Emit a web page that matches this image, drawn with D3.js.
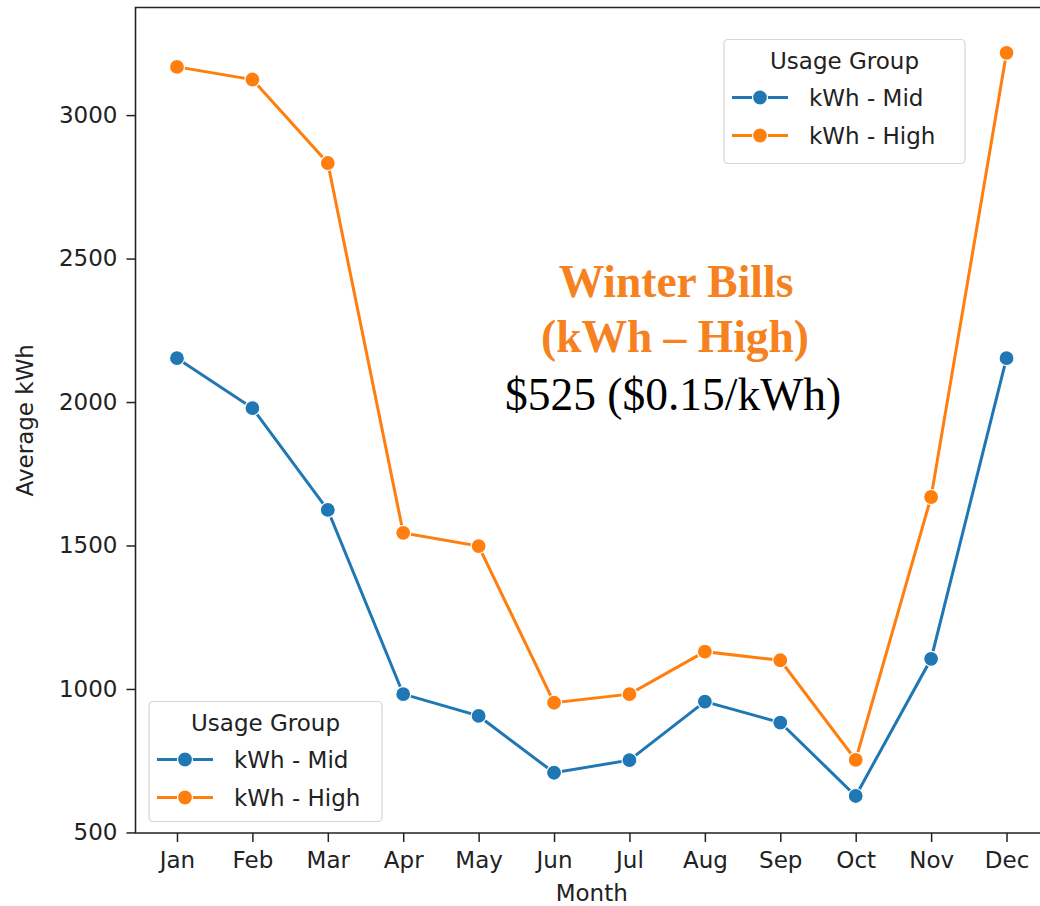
<!DOCTYPE html>
<html>
<head>
<meta charset="utf-8">
<script src="https://cdn.jsdelivr.net/npm/d3@7"></script>
<style>
  body { margin: 0; background: #fff; }
  svg { display: block; }
</style>
</head>
<body>
<div id="chart"></div>
<script>
var months = ["Jan", "Feb", "Mar", "Apr", "May", "Jun", "Jul", "Aug", "Sep", "Oct", "Nov", "Dec"];
var kwhMid = [2153, 1979, 1624, 982, 906, 708, 752, 956, 883, 627, 1105, 2153];
var kwhHigh = [3168, 3124, 2833, 1544, 1498, 952, 982, 1130, 1100, 753, 1669, 3217];
var yTicks = [500, 1000, 1500, 2000, 2500, 3000];
var seriesNames = ["kWh - Mid", "kWh - High"];
var seriesColors = ["#1f77b4", "#ff7f0e"];

var width = 1040, height = 906;
var font = "'DejaVu Sans', sans-serif";
var fs = 23;

var svg = d3.select("#chart").append("svg")
  .attr("width", width)
  .attr("height", height);

// axes box runs past the right edge (cropped like the reference)
var axL = 135.5, axR = 1048, axT = 7.5, axB = 833;

var x = d3.scaleLinear().domain([-0.55, 11.55]).range([axL, axR]);
var y = d3.scaleLinear().domain([498, 3375]).range([axB, axT]);

// y axis
var yAxis = svg.append("g")
  .attr("transform", "translate(" + axL + ",0)")
  .call(d3.axisLeft(y).tickValues(yTicks).tickSize(9).tickPadding(9).tickFormat(d3.format("d")));
yAxis.select(".domain").remove();
yAxis.selectAll("line").attr("stroke", "#222").attr("stroke-width", 1.5);
yAxis.selectAll("text").attr("font-family", font).attr("font-size", fs).attr("fill", "#222");

// x axis
var xAxis = svg.append("g")
  .attr("transform", "translate(0," + axB + ")")
  .call(d3.axisBottom(x).tickValues(d3.range(months.length)).tickSize(9).tickPadding(10)
    .tickFormat(function(i) { return months[i]; }));
xAxis.select(".domain").remove();
xAxis.selectAll("line").attr("stroke", "#222").attr("stroke-width", 1.5);
xAxis.selectAll("text").attr("font-family", font).attr("font-size", fs).attr("fill", "#222");

// spines
svg.append("path")
  .attr("d", "M" + axR + "," + axT + "H" + axL + "V" + axB + "H" + axR)
  .attr("fill", "none")
  .attr("stroke", "#222")
  .attr("stroke-width", 1.6);

// axis labels
svg.append("text")
  .attr("x", (axL + axR) / 2)
  .attr("y", 901)
  .attr("text-anchor", "middle")
  .attr("font-family", font)
  .attr("font-size", fs)
  .attr("fill", "#222")
  .text("Month");

svg.append("text")
  .attr("transform", "translate(33," + (axT + axB) / 2 + ") rotate(-90)")
  .attr("text-anchor", "middle")
  .attr("font-family", font)
  .attr("font-size", fs)
  .attr("fill", "#222")
  .text("Average kWh");

// lines
var line = d3.line()
  .x(function(d, i) { return x(i); })
  .y(function(d) { return y(d); });

[kwhMid, kwhHigh].forEach(function(vals, k) {
  var g = svg.append("g").attr("class", "series-" + k);
  g.append("path")
    .datum(vals)
    .attr("d", line)
    .attr("fill", "none")
    .attr("stroke", seriesColors[k])
    .attr("stroke-width", 3);
  g.selectAll("circle")
    .data(vals)
    .enter().append("circle")
    .attr("cx", function(d, i) { return x(i); })
    .attr("cy", function(d) { return y(d); })
    .attr("r", 7.5)
    .attr("fill", seriesColors[k])
    .attr("stroke", "#fff")
    .attr("stroke-width", 1.2);
});

// legends
function legend(x0, y0, w, h) {
  var g = svg.append("g").attr("transform", "translate(" + x0 + "," + y0 + ")");
  g.append("rect")
    .attr("width", w).attr("height", h)
    .attr("rx", 4)
    .attr("fill", "#fff").attr("fill-opacity", 0.8)
    .attr("stroke", "#d6d6d6").attr("stroke-width", 1.2);
  g.append("text")
    .attr("x", w / 2).attr("y", 29)
    .attr("text-anchor", "middle")
    .attr("font-family", font).attr("font-size", fs).attr("fill", "#222")
    .text("Usage Group");
  seriesNames.forEach(function(name, k) {
    var cy = 58 + k * 38;
    g.append("line")
      .attr("x1", 8).attr("x2", 64).attr("y1", cy).attr("y2", cy)
      .attr("stroke", seriesColors[k]).attr("stroke-width", 3);
    g.append("circle")
      .attr("cx", 36).attr("cy", cy).attr("r", 7.5)
      .attr("fill", seriesColors[k]).attr("stroke", "#fff").attr("stroke-width", 1.2);
    g.append("text")
      .attr("x", 85).attr("y", cy + 8)
      .attr("font-family", font).attr("font-size", fs).attr("fill", "#222")
      .text(name);
  });
}
legend(724, 39.5, 241, 124);
legend(149, 701.5, 233, 120);

// annotation
var ann = svg.append("g").attr("font-family", "'Liberation Serif', 'Times New Roman', serif").attr("text-anchor", "middle");
ann.append("text")
  .attr("x", 676).attr("y", 297)
  .attr("font-size", 45.5).attr("font-weight", "bold").attr("fill", "#f5821f")
  .text("Winter Bills");
ann.append("text")
  .attr("x", 675).attr("y", 352)
  .attr("font-size", 45.5).attr("font-weight", "bold").attr("fill", "#f5821f")
  .text("(kWh \u2013 High)");
ann.append("text")
  .attr("x", 673).attr("y", 410)
  .attr("font-size", 45.5).attr("fill", "#000")
  .text("$525 ($0.15/kWh)");
</script>
</body>
</html>
